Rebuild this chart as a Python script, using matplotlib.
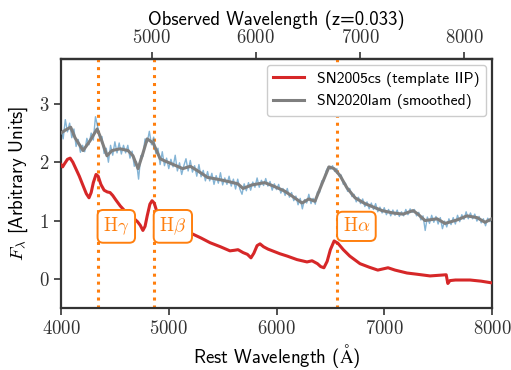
"""SN2020lam spectrum compared with the SN2005cs IIP template."""

import matplotlib
matplotlib.use("Agg")
import matplotlib.pyplot as plt
import numpy as np
from matplotlib.ticker import FuncFormatter

REDSHIFT = 0.033

# SN2005cs template (rest wavelength, flux)
template_wave = [
    4000, 4015, 4035, 4060, 4085, 4110, 4135, 4170, 4200, 4235, 4260, 4280,
    4300, 4325, 4345, 4370, 4400, 4430, 4455, 4480, 4510, 4550, 4600, 4640,
    4680, 4710, 4735, 4760, 4780, 4800, 4825, 4845, 4865, 4885, 4910, 4950,
    5000, 5100, 5197, 5300, 5383, 5480, 5568, 5610, 5643, 5690, 5730, 5763,
    5790, 5820, 5847, 5880, 5921, 6032, 6100, 6190, 6283, 6330, 6380, 6410,
    6440, 6470, 6500, 6535, 6570, 6620, 6680, 6775, 6860, 6940, 7035, 7100,
    7211, 7300, 7425, 7575, 7590, 7610, 7660, 7796, 7900, 8000,
]
template_flux = [
    1.96, 1.92, 1.98, 2.05, 2.07, 2.00, 1.90, 1.76, 1.62, 1.46, 1.39, 1.48,
    1.65, 1.79, 1.76, 1.62, 1.52, 1.49, 1.48, 1.43, 1.35, 1.25, 1.15, 1.08,
    1.03, 0.98, 0.92, 0.83, 0.90, 1.08, 1.28, 1.34, 1.30, 1.18, 1.08, 0.98,
    0.92, 0.85, 0.79, 0.70, 0.62, 0.55, 0.48, 0.49, 0.50, 0.45, 0.42, 0.36,
    0.44, 0.57, 0.60, 0.55, 0.51, 0.43, 0.39, 0.33, 0.29, 0.31, 0.26, 0.21,
    0.19, 0.30, 0.50, 0.65, 0.61, 0.50, 0.39, 0.26, 0.20, 0.15, 0.19, 0.15,
    0.10, 0.08, 0.05, 0.07, -0.08, -0.03, -0.02, -0.02, -0.04, -0.07,
]

# SN2020lam smoothed spectrum
smooth_wave = [
    4000, 4040, 4090, 4130, 4205, 4270, 4335, 4362, 4427, 4473, 4548, 4622,
    4668, 4715, 4760, 4800, 4855, 4920, 4965, 5030, 5130, 5200, 5271, 5360,
    5476, 5550, 5640, 5690, 5770, 5890, 5960, 6070, 6144, 6237, 6300, 6357,
    6422, 6487, 6534, 6590, 6654, 6729, 6821, 6914, 6980, 7080, 7174, 7267,
    7313, 7378, 7490, 7564, 7675, 7768, 7861, 7935, 8000,
]
smooth_flux = [
    2.50, 2.55, 2.60, 2.42, 2.20, 2.37, 2.57, 2.45, 2.11, 2.20, 2.23, 2.20,
    2.11, 1.89, 2.15, 2.40, 2.33, 2.06, 2.02, 1.97, 1.89, 1.93, 1.85, 1.74,
    1.70, 1.67, 1.63, 1.55, 1.61, 1.65, 1.60, 1.51, 1.42, 1.30, 1.37, 1.33,
    1.63, 1.92, 1.89, 1.77, 1.56, 1.39, 1.29, 1.22, 1.17, 1.13, 1.11, 1.17,
    1.11, 1.00, 1.03, 0.95, 1.01, 1.08, 1.05, 0.97, 1.03,
]

# SN2020lam raw spectrum, 20 A steps from 4000 to 8000
raw_wave = np.arange(4000, 8001, 20)
raw_flux = [
    2.60, 2.40, 2.73, 2.52, 2.67, 2.42, 2.57, 2.27, 2.39, 2.17,
    2.29, 2.18, 2.41, 2.30, 2.50, 2.38, 2.78, 2.61, 2.40, 2.44,
    2.15, 2.24, 2.00, 2.29, 2.12, 2.35, 2.16, 2.33, 2.14, 2.29,
    2.16, 2.29, 2.07, 2.19, 1.93, 2.01, 1.71, 2.11, 2.10, 2.40,
    2.34, 2.53, 2.30, 2.43, 2.15, 2.24, 1.96, 2.18, 1.94, 2.07,
    1.89, 2.05, 1.92, 2.12, 1.85, 1.99, 1.79, 1.94, 2.06, 1.85,
    2.03, 1.83, 1.94, 1.76, 1.96, 1.75, 1.86, 1.68, 1.84, 1.68,
    1.81, 1.62, 1.77, 1.64, 1.82, 1.61, 1.73, 1.62, 1.76, 1.59,
    1.71, 1.54, 1.71, 1.54, 1.45, 1.63, 1.51, 1.65, 1.52, 1.66,
    1.57, 1.73, 1.57, 1.69, 1.60, 1.72, 1.59, 1.67, 1.52, 1.63,
    1.53, 1.62, 1.47, 1.55, 1.43, 1.55, 1.40, 1.48, 1.34, 1.42,
    1.27, 1.38, 1.20, 1.36, 1.30, 1.45, 1.29, 1.38, 1.28, 1.49,
    1.48, 1.68, 1.68, 1.85, 1.92, 1.88, 1.94, 1.84, 1.89, 1.76,
    1.78, 1.62, 1.64, 1.50, 1.55, 1.41, 1.45, 1.32, 1.40, 1.29,
    1.37, 1.24, 1.32, 1.20, 1.30, 1.19, 1.29, 1.15, 1.23, 1.13,
    1.22, 1.10, 1.19, 1.08, 1.18, 1.09, 1.18, 1.07, 1.15, 1.08,
    1.19, 1.10, 1.20, 1.14, 1.19, 1.08, 1.14, 1.01, 1.08, 0.83,
    1.06, 0.95, 1.09, 0.97, 1.07, 0.94, 1.05, 0.86, 0.99, 0.89,
    1.03, 0.93, 1.05, 0.94, 1.09, 0.98, 1.10, 1.02, 1.15, 1.03,
    1.13, 1.03, 1.11, 0.99, 1.07, 0.96, 1.03, 0.91, 1.04, 0.98,
    1.06,
]

line_names = [r"$\mathrm{H}\gamma$", r"$\mathrm{H}\beta$", r"$\mathrm{H}\alpha$"]
line_waves = [4340, 4861, 6563]

orange = "#ff7f0e"
plt.rcParams["mathtext.fontset"] = "cm"
plt.rcParams["font.family"] = ["cmss10", "DejaVu Sans"]
plt.rcParams["axes.unicode_minus"] = False

fig, ax = plt.subplots(figsize=(5.11, 3.70), dpi=100)
fig.subplots_adjust(left=61 / 511, right=492 / 511, bottom=1 - 308 / 370, top=1 - 59 / 370)

ax.plot(raw_wave, raw_flux, color="#1f77b4", alpha=0.55, lw=1.0, zorder=2)
ax.plot(template_wave, template_flux, color="#d62728", lw=2.2,
        label="SN2005cs (template IIP)", zorder=3)
ax.plot(smooth_wave, smooth_flux, color="#7f7f7f", lw=2.2,
        label="SN2020lam (smoothed)", zorder=3)

for name, wave in zip(line_names, line_waves):
    ax.axvline(wave, color=orange, ls=(0, (1, 1.6)), lw=2.2, zorder=1)
    ax.annotate(name, xy=(wave, 0.9), xytext=(4, 0), textcoords="offset points",
                ha="left", va="center", color=orange, fontsize=13.5,
                bbox=dict(boxstyle="round,pad=0.3", fc="white", ec=orange, lw=1.4),
                zorder=4)

ax.set_xlim(4000, 8000)
ax.set_ylim(-0.5, 3.77)
ax.set_yticks([0, 1, 2, 3])
ax.set_xticks([4000, 5000, 6000, 7000, 8000])
math_fmt = FuncFormatter(lambda v, p: f"${v:.0f}$")
ax.xaxis.set_major_formatter(math_fmt)
ax.yaxis.set_major_formatter(math_fmt)
ax.set_xlabel(r"Rest Wavelength ($\mathrm{\AA}$)", fontsize=13.5, labelpad=3)
ax.set_ylabel(r"$F_\lambda$ [Arbitrary Units]", fontsize=13.5, labelpad=6)
ax.tick_params(labelsize=13.5, length=5, width=1.2, colors="#333333", labelcolor="#333333")

top = ax.secondary_xaxis("top", functions=(lambda x: x * (1 + REDSHIFT),
                                           lambda x: x / (1 + REDSHIFT)))
top.set_xticks([5000, 6000, 7000, 8000])
top.xaxis.set_major_formatter(math_fmt)
top.tick_params(labelsize=13.5, length=5, width=1.2, colors="#333333", labelcolor="#333333")
top.set_xlabel("Observed Wavelength (z=0.033)", fontsize=13.5, labelpad=3)

for spine in list(ax.spines.values()) + list(top.spines.values()):
    spine.set_linewidth(1.6)
    spine.set_color("#333333")

ax.legend(loc="upper right", fontsize=11.3, framealpha=1, edgecolor="#cccccc",
          handlelength=2.0, borderaxespad=0.4)

fig.savefig("out.png", dpi=100)
